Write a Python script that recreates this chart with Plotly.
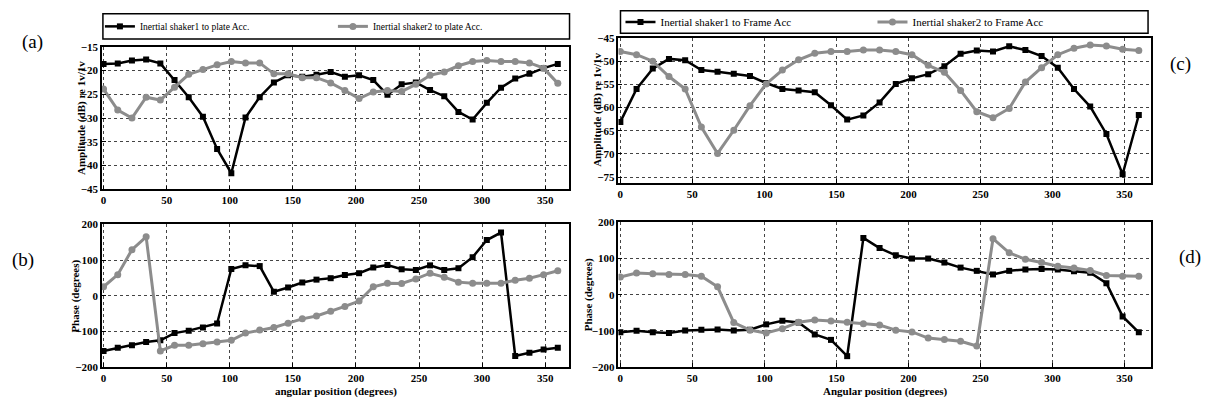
import plotly.graph_objects as go

angle_deg = [0, 11.25, 22.5, 33.75, 45, 56.25, 67.5, 78.75, 90, 101.25, 112.5, 123.75,
             135, 146.25, 157.5, 168.75, 180, 191.25, 202.5, 213.75, 225, 236.25, 247.5,
             258.75, 270, 281.25, 292.5, 303.75, 315, 326.25, 337.5, 348.75, 360]

amp_plate_s1 = [-18.6, -18.5, -17.9, -17.7, -18.5, -22.0, -25.6, -29.7, -36.5, -41.6, -29.9,
                -25.6, -22.5, -21.0, -21.3, -20.9, -20.3, -21.3, -21.0, -22.0, -25.1, -22.9,
                -22.5, -24.1, -25.4, -28.7, -30.3, -26.8, -23.6, -21.7, -20.7, -19.5, -18.6]
amp_plate_s2 = [-23.9, -28.3, -30.0, -25.6, -26.2, -23.5, -20.8, -19.8, -18.8, -18.1, -18.4,
                -18.4, -20.7, -20.7, -21.5, -21.5, -22.6, -24.2, -25.9, -24.5, -24.2, -24.4,
                -22.9, -21.0, -20.3, -19.0, -18.1, -17.9, -18.1, -18.1, -18.4, -19.5, -22.7]
phase_plate_s1 = [-155, -146, -139, -130, -125, -105, -98, -89, -78, 75, 85, 83, 11, 23, 37,
                  45, 49, 58, 63, 79, 86, 74, 72, 85, 72, 77, 108, 156, 177, -169, -160, -151, -146]
phase_plate_s2 = [25, 59, 129, 165, -155, -139, -139, -135, -130, -125, -105, -96, -89, -77,
                  -65, -57, -44, -30, -15, 25, 35, 34, 47, 63, 52, 38, 35, 35, 35, 43, 49, 59, 70]
amp_frame_s1 = [-63.1, -56.0, -51.6, -49.5, -49.8, -51.9, -52.3, -52.7, -53.2, -54.7, -56.0,
                -56.3, -56.7, -59.5, -62.6, -61.7, -58.9, -54.9, -53.7, -52.8, -51.1, -48.4,
                -47.7, -47.9, -46.8, -47.6, -48.9, -51.4, -56.0, -59.8, -65.7, -74.4, -61.6]
amp_frame_s2 = [-47.9, -48.6, -50.0, -53.3, -56.0, -64.2, -69.9, -64.9, -59.6, -54.9, -51.9,
                -49.7, -48.3, -47.9, -47.9, -47.6, -47.6, -47.9, -48.6, -50.9, -52.4, -56.3,
                -60.9, -62.2, -60.2, -54.5, -51.4, -48.6, -47.2, -46.5, -46.7, -47.4, -47.7]
phase_frame_s1 = [-104, -100, -104, -106, -99, -97, -96, -99, -97, -82, -72, -77, -110, -125,
                  -170, 157, 129, 109, 100, 100, 89, 75, 66, 56, 66, 70, 71, 70, 65, 61, 32, -60, -104]
phase_frame_s2 = [49, 60, 58, 56, 56, 51, 22, -77, -98, -106, -94, -76, -70, -73, -76, -80,
                  -84, -98, -103, -120, -124, -129, -142, 155, 116, 98, 89, 79, 74, 67, 53, 51, 51]

x_ticks = [0, 50, 100, 150, 200, 250, 300, 350]
amp_plate_ticks = [-45, -40, -35, -30, -25, -20, -15]
amp_frame_ticks = [-75, -70, -65, -60, -55, -50, -45]
phase_ticks = [-200, -100, 0, 100, 200]

names_plate = ["Inertial shaker1 to plate Acc.", "Inertial shaker2 to plate Acc."]
names_frame = ["Inertial shaker1 to Frame Acc", "Inertial shaker2 to Frame Acc"]

W, H = 1211, 406
BLACK = "#000000"
GRAY = "#8c8c8c"
SERIF = "Liberation Serif, Times New Roman, serif"


def px(x):
    return x / W


def py(y):
    return 1 - y / H


fig = go.Figure()


def add_pair(y1, y2, xa, ya, names, legend, show):
    fig.add_trace(go.Scatter(
        x=angle_deg, y=y1, mode="lines+markers", name=names[0] if names else None,
        line=dict(color=BLACK, width=2.5),
        marker=dict(symbol="square", size=6, color=BLACK),
        xaxis=xa, yaxis=ya, showlegend=show, legend=legend))
    fig.add_trace(go.Scatter(
        x=angle_deg, y=y2, mode="lines+markers", name=names[1] if names else None,
        line=dict(color=GRAY, width=3),
        marker=dict(symbol="circle", size=7, color=GRAY),
        xaxis=xa, yaxis=ya, showlegend=show, legend=legend))


add_pair(amp_plate_s1, amp_plate_s2, "x", "y", names_plate, "legend", True)
add_pair(phase_plate_s1, phase_plate_s2, "x2", "y2", None, "legend", False)
add_pair(amp_frame_s1, amp_frame_s2, "x3", "y3", names_frame, "legend2", True)
add_pair(phase_frame_s1, phase_frame_s2, "x4", "y4", None, "legend2", False)

tickfont = dict(family=SERIF, size=11, color="black", weight="bold")
axis_common = dict(
    showline=True, linecolor="black", linewidth=1.5, mirror=True,
    ticks="inside", ticklen=4, tickcolor="black",
    showgrid=True, gridcolor="#444444", griddash="dot", gridwidth=1,
    zeroline=False, tickfont=tickfont,
)

left_dom = [px(101), px(568)]
right_dom = [px(618), px(1151)]
dom_a = [py(189), py(42)]
dom_b = [py(372), py(225)]
dom_c = [py(182), py(33)]
dom_d = [py(372), py(223)]
xr = [-1.3, 368.5]

fig.update_layout(
    width=W, height=H,
    margin=dict(l=0, r=0, t=0, b=0),
    paper_bgcolor="white", plot_bgcolor="white",
    hovermode=False,
    xaxis=dict(domain=left_dom, range=xr, tickvals=x_ticks, anchor="y", **axis_common),
    yaxis=dict(domain=dom_a, range=[-45, -15], tickvals=amp_plate_ticks, anchor="x", **axis_common),
    xaxis2=dict(domain=left_dom, range=xr, tickvals=x_ticks, anchor="y2", **axis_common),
    yaxis2=dict(domain=dom_b, range=[-200, 200], tickvals=phase_ticks, anchor="x2", **axis_common),
    xaxis3=dict(domain=right_dom, range=xr, tickvals=x_ticks, anchor="y3", **axis_common),
    yaxis3=dict(domain=dom_c, range=[-76.2, -45], tickvals=amp_frame_ticks, anchor="x3", **axis_common),
    xaxis4=dict(domain=right_dom, range=xr, tickvals=x_ticks, anchor="y4", **axis_common),
    yaxis4=dict(domain=dom_d, range=[-200, 200], tickvals=phase_ticks, anchor="x4", **axis_common),
    legend=dict(
        orientation="h", x=px(99), y=py(21), xanchor="left", yanchor="middle",
        borderwidth=0, bgcolor="rgba(0,0,0,0)",
        font=dict(family=SERIF, size=9.5, color="black"),
        entrywidth=188, entrywidthmode="pixels", tracegroupgap=0,
    ),
    legend2=dict(
        orientation="h", x=px(620), y=py(16.5), xanchor="left", yanchor="middle",
        borderwidth=0, bgcolor="rgba(0,0,0,0)",
        font=dict(family=SERIF, size=11, color="black"),
        entrywidth=207, entrywidthmode="pixels", tracegroupgap=0,
    ),
    shapes=[
        dict(type="rect", xref="paper", yref="paper", x0=px(102), x1=px(569), y0=py(34), y1=py(8),
             line=dict(color="black", width=1.5), fillcolor="white", layer="below"),
        dict(type="rect", xref="paper", yref="paper", x0=px(620), x1=px(1148), y0=py(28), y1=py(5),
             line=dict(color="black", width=1.5), fillcolor="white", layer="below"),
    ],
)

title_font = dict(family=SERIF, size=11, color="black", weight="bold")
annotations = [
    dict(text="Amplitude (dB) re 1v/1v", x=px(80), y=py(115.5), textangle=-90, font=title_font),
    dict(text="Phase (degrees)", x=px(75), y=py(298.5), textangle=-90, font=title_font),
    dict(text="Amplitude (dB) re 1v/1v", x=px(597), y=py(107.5), textangle=-90, font=title_font),
    dict(text="Phase (degrees)", x=px(588), y=py(297.5), textangle=-90, font=title_font),
    dict(text="angular position (degrees)", x=px(335), y=py(397.5), font=title_font),
    dict(text="Angular position (degrees)", x=px(885), y=py(397), font=title_font),
    dict(text="(a)", x=px(32), y=py(37), font=dict(family=SERIF, size=19, color="black")),
    dict(text="(b)", x=px(22), y=py(262), font=dict(family=SERIF, size=19, color="black")),
    dict(text="(c)", x=px(1180), y=py(60), font=dict(family=SERIF, size=19, color="black")),
    dict(text="(d)", x=px(1190), y=py(259), font=dict(family=SERIF, size=19, color="black")),
]
for a in annotations:
    a.update(xref="paper", yref="paper", showarrow=False, xanchor="center", yanchor="middle")
fig.update_layout(annotations=annotations)

fig.write_html(
    "out.html",
    config={"displayModeBar": False},
    post_script="document.body.style.margin='0';document.body.style.overflow='hidden';",
)
